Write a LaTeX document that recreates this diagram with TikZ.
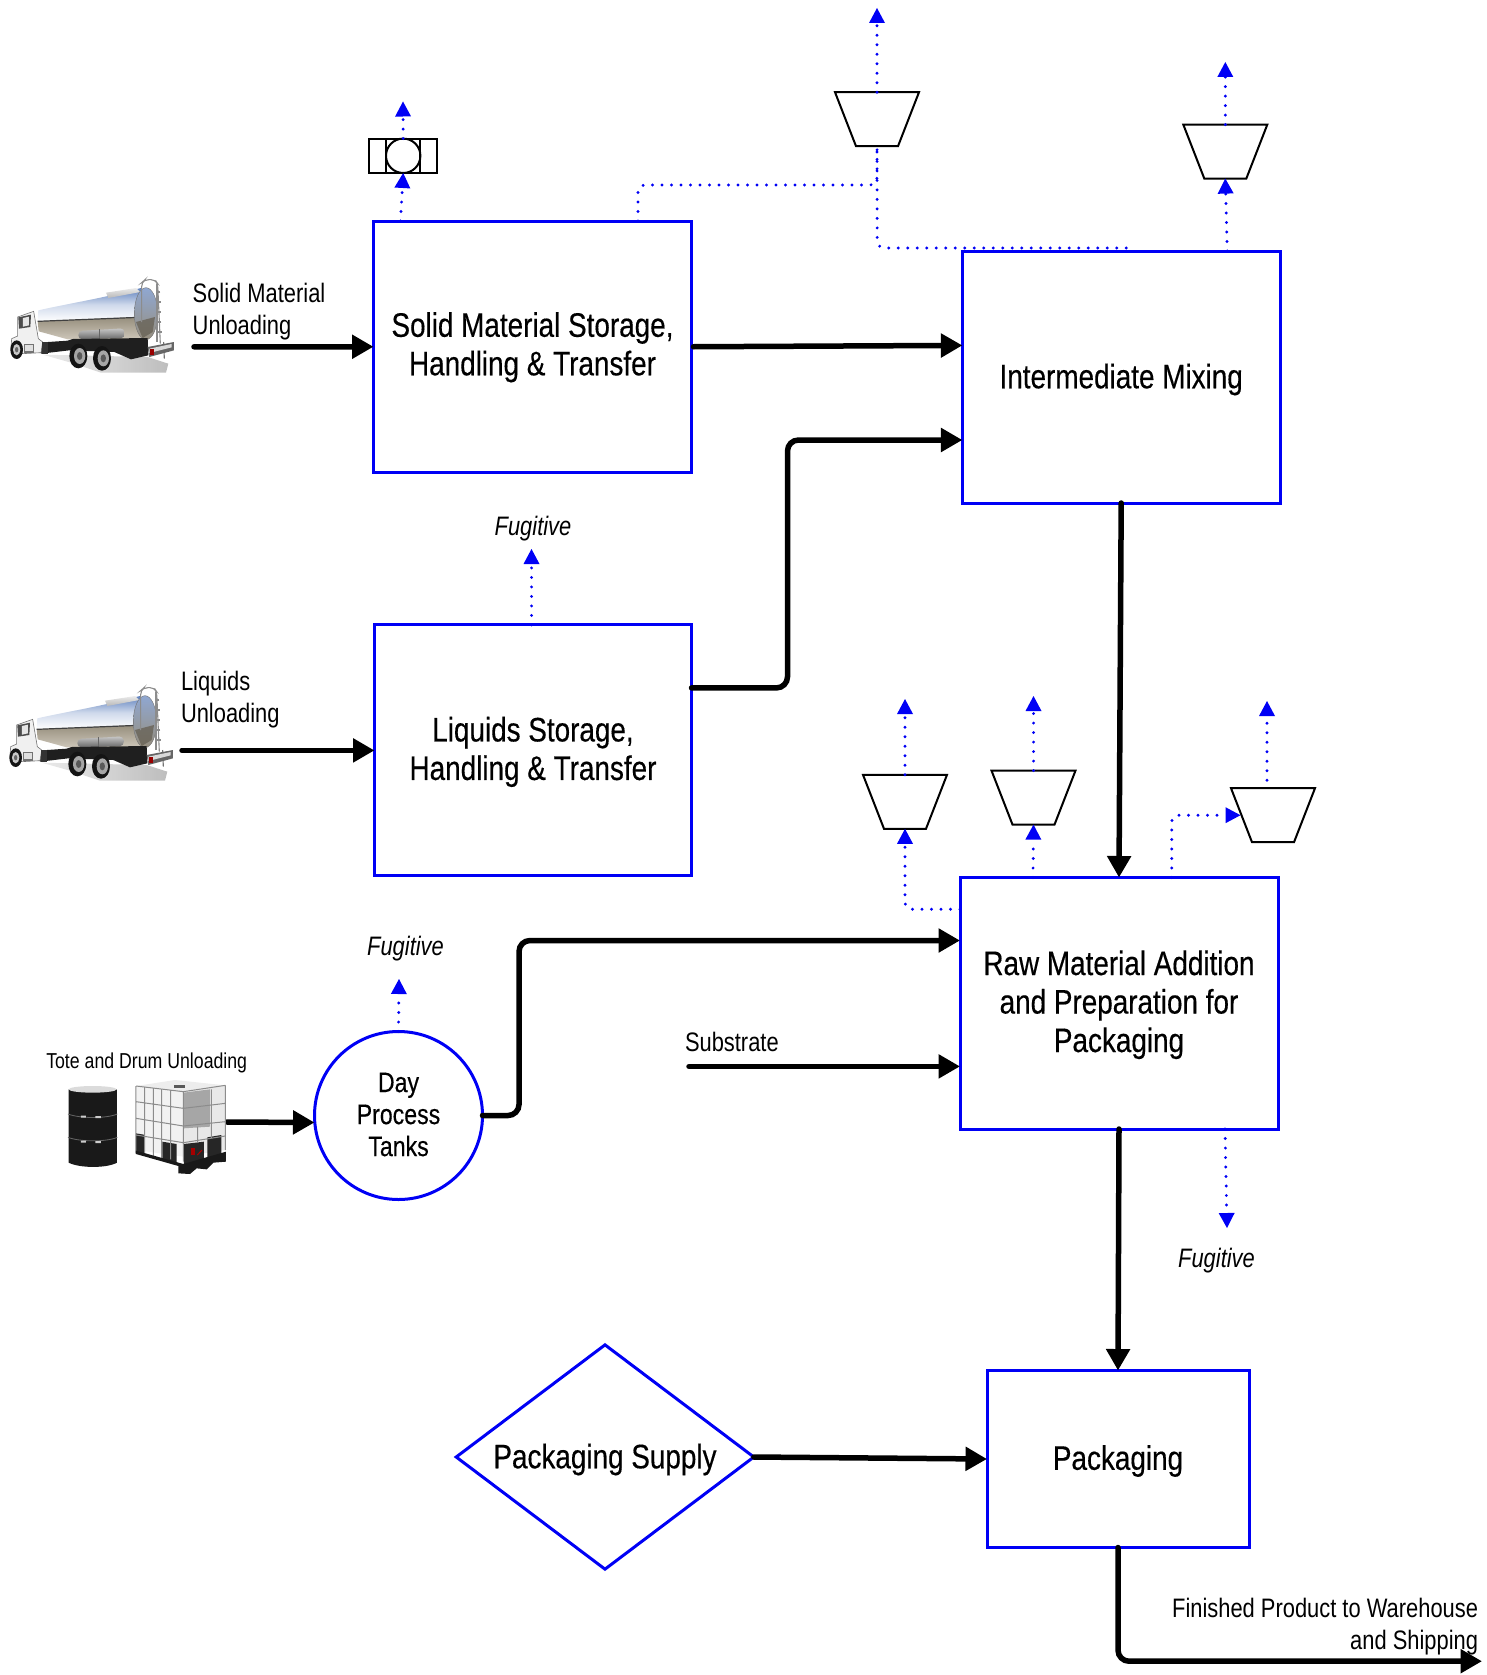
\documentclass[tikz,border=0pt]{standalone}
\usepackage{fontspec}
\setmainfont{Liberation Sans}[FakeStretch=0.82]
\newfontfamily\heavyfam{Liberation Sans}[FakeStretch=0.82,FakeBold=0.35]
\usetikzlibrary{arrows.meta,calc,shapes.geometric}
\definecolor{flowblue}{RGB}{0,0,245}
\definecolor{tankblue}{RGB}{96,130,190}
\definecolor{tanktan}{RGB}{150,142,125}
\definecolor{tanklight}{RGB}{205,198,185}
\newcommand{\bigtxt}{\heavyfam\fontsize{34}{38.5}\selectfont}
\newcommand{\midtxt}{\fontsize{26.7}{32}\selectfont}
\newcommand{\daytxt}{\heavyfam\fontsize{28.2}{32}\selectfont}
\newcommand{\smalltxt}{\fontsize{21.6}{27}\selectfont}
\tikzset{
  x=1pt,y=-1pt,
  procbox/.style={draw=flowblue,line width=3pt,rectangle,inner sep=0pt,outer sep=0pt},
  boxtext/.style={inner sep=0pt,outer sep=0pt,align=center,font=\bigtxt},
  flow/.style={line width=5.5pt,line cap=round,rounded corners=11pt,-{Triangle[length=21.5pt,width=23pt]}},
  vent/.style={draw=flowblue,line width=3.2pt,line cap=round,dash pattern=on 0pt off 9.5pt,rounded corners=7pt,
     -{Triangle[length=15pt,width=16pt,fill=flowblue,color=flowblue,line width=0pt]}},
  trapbox/.style={rectangle,minimum width=84pt,minimum height=54pt,inner sep=0pt,outer sep=0pt},
  lbl/.style={inner sep=0pt,outer sep=0pt,font=\midtxt}
}
\newcommand{\trapbody}[1]{\draw[black,line width=2pt,line join=miter] (#1.north west) -- (#1.north east) -- ([xshift=-21pt]#1.south east) -- ([xshift=21pt]#1.south west) -- cycle;}
\newcommand{\tanktruck}[1]{%
\begin{scope}[shift={(#1)},scale=1/3]
 % ground shadow
 \shade[left color=black!10,right color=black!32,opacity=.8] (125,338) -- (210,362) -- (300,392) -- (495,392) -- (502,365) -- (440,345) -- cycle;
 % tank
 \shade[top color=tankblue,bottom color=white,middle color=white!70!tankblue] (112,205) .. controls (200,185) and (300,170) .. (420,138) -- (420,225) -- (110,238) -- cycle;
 \shade[top color=tanktan,bottom color=tanklight] (110,238) -- (420,225) -- (420,290) -- (200,292) -- (113,268) -- cycle;
 \draw[black!75,line width=1.2pt] (110,238) -- (415,226);
 \shade[top color=black!8,bottom color=black!28] (315,152) -- (405,138) -- (418,150) -- (322,168) -- cycle;
 % rear end of the tank
 \shade[top color=tankblue!70!white,middle color=white,bottom color=tanktan,draw=black!55] (435,215) ellipse [x radius=35,y radius=78];
 \fill[tanktan!70!black,opacity=.8] (405,240) -- (462,225) -- (455,270) -- (425,288) -- cycle;
 % toolboxes
 \shade[top color=black!22,bottom color=black!60,rounded corners=4pt] (232,267) -- (370,259) -- (372,288) -- (232,292) -- cycle;
 \draw[black!60] (295,262) -- (295,290);
 % chassis
 \fill[black!88] (112,302) -- (200,296) -- (215,291) -- (440,288) -- (442,340) -- (390,352) -- (340,330) -- (205,325) -- (120,335) -- cycle;
 % ladder
 \draw[black!45,line width=1.1pt,rounded corners=4pt] (422,240) -- (422,122) -- (432,113) -- (462,113) -- (470,125) -- (478,305);
 \draw[black!45,line width=1.1pt] (468,125) -- (468,300) (478,150) -- (468,150) (479,180) -- (468,180) (480,210) -- (468,210) (481,240) -- (468,240) (482,270) -- (468,270);
 \draw[black!55,line width=1.1pt] (488,300) -- (490,350);
 % bumper
 \fill[black!60] (440,315) -- (519,300) -- (519,325) -- (445,345) -- cycle;
 \fill[white!85!black] (445,320) -- (512,306) -- (512,316) -- (445,333) -- cycle;
 \fill[red!60!black] (447,322) rectangle (458,340);
 % wheels
 \fill[black!92] (232,342) ellipse [x radius=27,y radius=37];
 \fill[black!35] (236,342) ellipse [x radius=17,y radius=24];
 \fill[black!65] (236,342) ellipse [x radius=8,y radius=12];
 \fill[black!92] (303,349) ellipse [x radius=27,y radius=37];
 \fill[black!35] (307,349) ellipse [x radius=17,y radius=24];
 \fill[black!65] (307,349) ellipse [x radius=8,y radius=12];
 % cab
 \fill[black!6,draw=black!55,line width=.6pt] (50,225) -- (98,208) -- (112,290) -- (125,300) -- (120,332) -- (65,335) -- (30,318) -- (32,290) -- (50,282) -- cycle;
 \fill[black!70] (52,226) -- (90,218) -- (88,255) -- (54,260) -- cycle;
 \fill[black!10] (66,228) -- (84,224) -- (84,250) -- (66,254) -- cycle;
 \fill[black!55] (68,305) rectangle (100,333);
 \fill[black!12] (72,310) rectangle (96,328);
 \fill[black!80] (122,300) rectangle (140,335);
 \fill[black!92] (47,323) ellipse [x radius=19,y radius=28];
 \fill[black!22] (47,323) ellipse [x radius=11,y radius=17];
 \fill[black!60] (47,323) ellipse [x radius=5,y radius=8];
\end{scope}}
\begin{document}
\begin{tikzpicture}
\useasboundingbox (0,0) rectangle (1486,1675);
% process blocks
\node[procbox,minimum width=318pt,minimum height=251.5pt] (solid) at (532.5,346.75) {};
\node[procbox,minimum width=317.6pt,minimum height=252pt] (mix) at (1121.2,377) {};
\node[procbox,minimum width=317pt,minimum height=251pt] (liquid) at (533,750.4) {};
\node[procbox,minimum width=318pt,minimum height=251.5pt] (raw) at (1119,1003.25) {};
\node[procbox,minimum width=262pt,minimum height=177pt] (pack) at (1118,1459) {};
\node[procbox,diamond,minimum width=297.6pt,minimum height=224.3pt,aspect=1.327] (supply) at (605,1457) {};
\node[draw=flowblue,line width=3pt,circle,minimum size=168pt,inner sep=0pt,outer sep=0pt] (day) at (398.5,1115.5) {};
\node[inner sep=0pt,outer sep=0pt,align=center,font=\daytxt] (dayT) at ([yshift=1pt]day.center) {Day\\Process\\Tanks};
\node[boxtext] (solidT) at ([yshift=-0.5pt]solid.center) {Solid Material Storage,\\Handling \& Transfer};
\node[boxtext] (mixT) at ([yshift=-2.5pt]mix.center) {Intermediate Mixing};
\node[boxtext] (liquidT) at ([yshift=-1.5pt]liquid.center) {Liquids Storage,\\Handling \& Transfer};
\node[boxtext] (rawT) at ([yshift=-1.5pt]raw.center) {Raw Material Addition\\and Preparation for\\Packaging};
\node[boxtext] (packT) at ([yshift=-2pt]pack.center) {Packaging};
\node[boxtext] (supplyT) at ([yshift=-2.5pt]supply.center) {Packaging Supply};
% control devices
\node[trapbox] (tA) at (877,119.2) {};
\node[trapbox] (tB) at (1225.3,151.6) {};
\node[trapbox] (tC) at (905,801.8) {};
\node[trapbox] (tD) at (1033.5,797.6) {};
\node[trapbox] (tE) at (1273,815.2) {};
\trapbody{tA}\trapbody{tB}\trapbody{tC}\trapbody{tD}\trapbody{tE}
\node[draw=black,line width=2pt,rectangle,minimum width=68.4pt,minimum height=34.4pt,inner sep=0pt,outer sep=0pt] (scrub) at (403.2,155.8) {};
\node[draw=black,line width=2pt,rectangle,minimum width=34pt,minimum height=34.4pt,inner sep=0pt,outer sep=0pt] (scrubin) at (403.2,155.8) {};
\node[draw=black,line width=2pt,circle,minimum size=34.4pt,inner sep=0pt,outer sep=0pt] (scrubc) at (403.2,155.8) {};
% labels
\node[lbl,anchor=west,align=left] (lsolid) at (192.7,312) {Solid Material\\Unloading};
\node[lbl,anchor=west,align=left] (lliq) at (181,699.5) {Liquids\\Unloading};
\node[inner sep=0pt,font=\smalltxt] (ltote) at (146.7,1062.5) {Tote and Drum Unloading};
\node[lbl,anchor=west] (lsub) at (685,1042) {Substrate};
\node[lbl,font=\midtxt\itshape] (fa) at (533,529) {Fugitive};
\node[lbl,font=\midtxt\itshape] (fb) at (405.5,949) {Fugitive};
\node[lbl,font=\midtxt\itshape] (fc) at (1216.5,1260.5) {Fugitive};
\node[lbl,anchor=east,align=right] (lfin) at (1478,1627) {Finished Product to Warehouse\\and Shipping};
% free ends
\coordinate (sSolid) at (194,346.8);
\coordinate (sLiq) at (182,750.4);
\coordinate (sTote) at (227,1122);
\coordinate (sSub) at (689,1066.4);
\coordinate (eOut) at (1482,1661.2);
\coordinate (vA) at (403,101.5);
\coordinate (vB) at (877,8);
\coordinate (vC) at (1225.3,62);
\coordinate (vD) at (905,699);
\coordinate (vE) at (1033.5,696);
\coordinate (vF) at (1267,701);
\coordinate (vG) at (531.5,549);
\coordinate (vH) at (399,979);
\coordinate (vI) at (1227,1228);
% main flows
\draw[flow] (sSolid) -- (solid.west);
\draw[flow] ([xshift=2pt]solid.east) -- ([yshift=31.6pt]mix.west);
\draw[flow] ([yshift=62.5pt]liquid.east) -- ++(96,0) -- ++(0,-247.9) -- ([yshift=-63pt]mix.west);
\draw[flow] (sLiq) -- (liquid.west);
\draw[flow] (mix.south) -- (raw.north);
\draw[flow] (sTote) -- ([yshift=-7pt]day.west);
\draw[flow] (day.east) -- ++(36.5,0) -- ++(0,-175) -- ([yshift=62.75pt]raw.west);
\draw[flow] (sSub) -- ([yshift=-63.15pt]raw.west);
\draw[flow] (raw.south) -- (pack.north);
\draw[flow] (supply.east) -- (pack.west);
\draw[flow] (pack.south) |- (eOut);
% vents
\draw[vent] ([xshift=-132pt]solid.north) -- (scrub.south);
\draw[vent] (scrub.north) -- (vA);
\draw[vent,-] ([xshift=105.5pt]solid.north) -- ++(0,-36) -- ++(239,0) -- (tA.south);
\draw[vent,-] ([xshift=5pt,yshift=3pt]mix.north) -- ++(-249,0) -- (tA.south);
\draw[vent] (tA.north) -- (vB);
\draw[vent] ([xshift=106pt]mix.north) -- (tB.south);
\draw[vent] (tB.north) -- (vC);
\draw[vent] ([yshift=94pt]raw.west) -| (tC.south);
\draw[vent] (tC.north) -- (vD);
\draw[vent] ([xshift=-86pt]raw.north) -- (tD.south);
\draw[vent] (tD.north) -- (vE);
\draw[vent] ([xshift=52.7pt]raw.north) |- ([xshift=-32.5pt]tE.center);
\draw[vent] ([xshift=-6pt,yshift=35pt]tE.center) -- (vF);
\draw[vent] ([xshift=106pt]raw.south) -- (vI);
\draw[vent] ([xshift=-1.5pt]liquid.north) -- (vG);
\draw[vent] (day.north) -- (vH);
% vehicles and containers
\tanktruck{0,650}
\tanktruck{1,242}
\begin{scope}[shift={(0,1000)},scale=1/3]
 % drum
 \fill[black!90] (206,268) -- (206,488) .. controls (240,505) and (320,505) .. (351,488) -- (351,268) -- cycle;
 \fill[black!14] (278,268) ellipse [x radius=72,y radius=10];
 \draw[black!60,line width=.8pt] (204,342) .. controls (240,356) and (320,356) .. (352,342);
 \draw[black!60,line width=.8pt] (204,412) .. controls (240,426) and (320,426) .. (352,412);
 \fill[white!80!black] (243,347) rectangle (258,353) (286,348) rectangle (303,354) (243,422) rectangle (258,428) (286,423) rectangle (303,429);
 % tote
 \fill[black!7] (408,258) -- (525,240) -- (676,256) -- (550,275) -- cycle;
 \fill[black!5] (408,258) -- (550,275) -- (550,470) -- (408,450) -- cycle;
 \fill[black!9] (550,275) -- (676,256) -- (676,450) -- (550,470) -- cycle;
 \fill[black!35] (550,278) -- (630,268) -- (630,380) -- (550,385) -- cycle;
 \fill[black!65] (522,254) rectangle (555,264);
 \fill[black!85] (408,400) -- (432,404) -- (432,465) -- (408,460) -- cycle;
 \fill[black!85] (487,425) -- (530,432) -- (530,490) -- (487,480) -- cycle;
 \fill[black!85] (622,412) -- (664,405) -- (664,470) -- (622,478) -- cycle;
 \fill[black!85] (552,432) -- (612,425) -- (612,488) -- (552,496) -- cycle;
 \draw[black!45,line width=1pt] (408,258) -- (550,275) -- (676,256) (408,305) -- (550,325) -- (676,310) (408,355) -- (550,378) -- (676,365) (408,405) -- (550,428) -- (676,408) (408,258) -- (408,460) (434,262) -- (434,465) (460,265) -- (460,470) (485,268) -- (485,475) (512,272) -- (512,478) (550,275) -- (550,485) (593,380) -- (593,428) (634,268) -- (634,415) (676,256) -- (676,450);
 \fill[black!90] (408,462) -- (535,498) -- (535,520) -- (570,522) -- (590,505) -- (620,508) -- (640,488) -- (678,485) -- (678,455) -- (550,492) -- (408,452) -- cycle;
 \fill[red!65!black] (572,445) rectangle (586,465);
 \draw[red!70!black,line width=1pt] (592,465) -- (606,450);
\end{scope}
\end{tikzpicture}
\end{document}
